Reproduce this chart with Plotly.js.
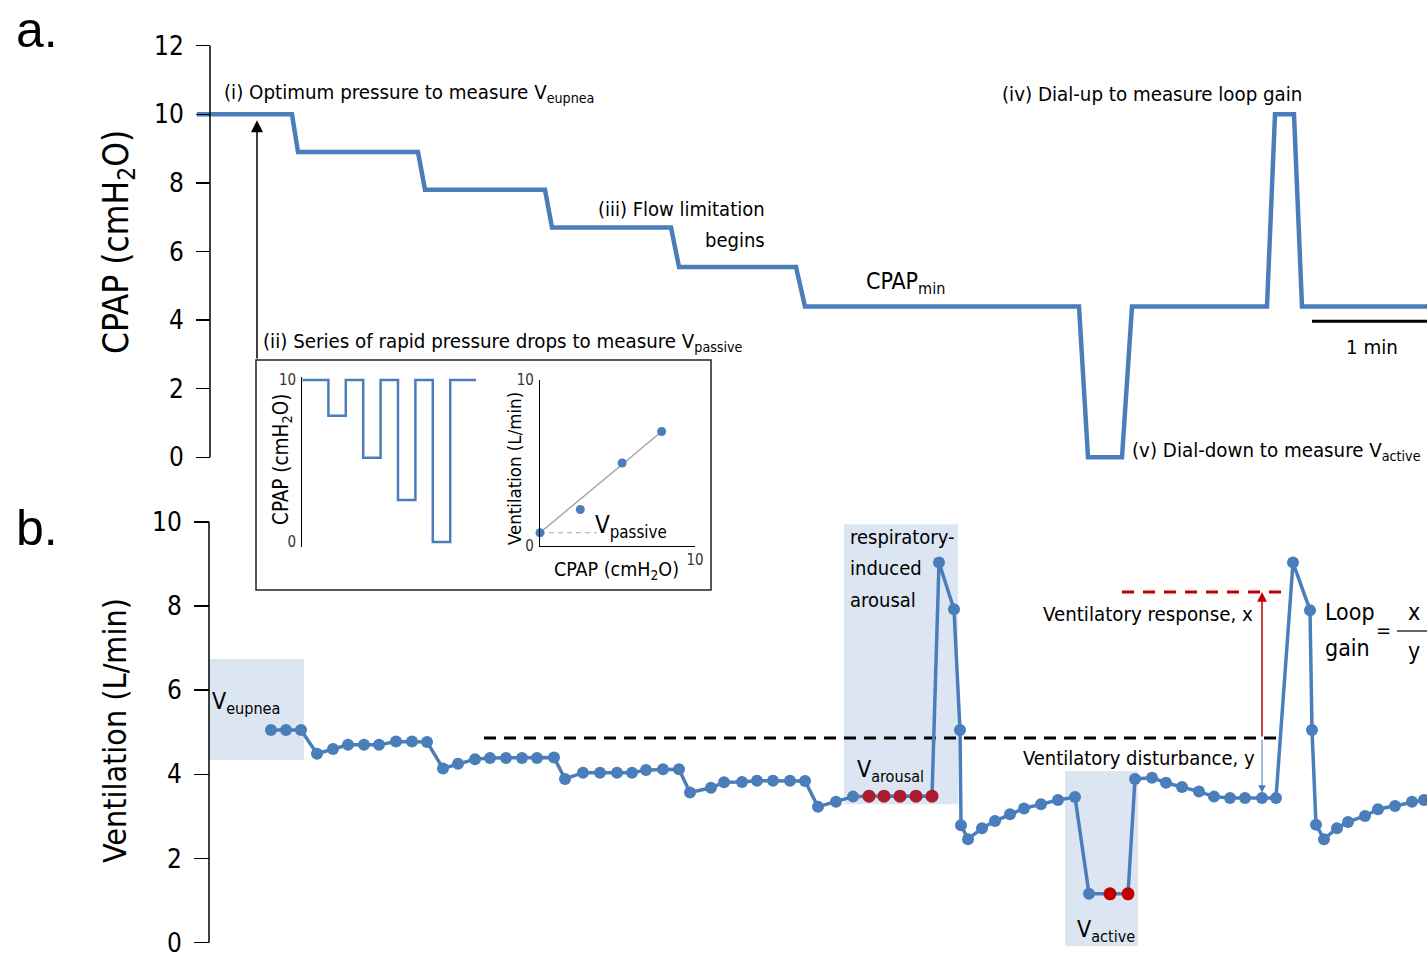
<!DOCTYPE html>
<html><head><meta charset="utf-8">
<script src="https://cdn.plot.ly/plotly-3.0.1.min.js"></script>
<style>html,body{margin:0;padding:0;background:#fff}</style>
</head><body><div id="chart" style="width:1427px;height:957px"></div>
<script>
// ---------- DATA ----------
// Panel a: CPAP profile (time in s, 1 min scale bar = 60 s)
const cpapTime  = [-5.5, 42, 45, 105, 108.5, 168.5, 172, 231.5, 235.5, 294, 298.5, 435.5, 440, 457, 462, 529.5, 533.5, 543, 547, 609.5];
const cpapLevel = [10, 10, 8.9, 8.9, 7.8, 7.8, 6.7, 6.7, 5.55, 5.55, 4.4, 4.4, 0, 0, 4.4, 4.4, 10, 10, 4.4, 4.4];
const cpapTicks = [0, 2, 4, 6, 8, 10, 12];

// Panel b: breath-by-breath ventilation (L/min)
const ventTime = [31.5, 39, 46.5, 54.5, 62.5, 70, 78, 85.5, 94, 102, 109.5,
  117.5, 125, 133.5, 141, 149, 157, 164.5, 173,
  178.5, 187.5, 196, 204.5, 212, 219, 227.5, 235.5,
  241, 251.5, 258, 267, 274.5, 282.5, 291, 298.5,
  305, 314, 322.5, 330.5, 338, 346, 354, 362,
  365.5, 373, 376, 376.5, 380, 387, 393.5, 401, 408, 416.5, 425, 433.5,
  440.5, 451, 460,
  463.5, 472, 479, 487, 495.5, 503, 511, 518.5, 527, 534,
  542.5, 551, 552, 554, 558, 564.5, 570, 578.5, 585, 593.5, 602, 608];
const ventValue = [5.05, 5.05, 5.05, 4.49, 4.60, 4.70, 4.70, 4.70, 4.78, 4.78, 4.77,
  4.14, 4.25, 4.36, 4.39, 4.39, 4.39, 4.39, 4.40,
  3.89, 4.04, 4.04, 4.04, 4.04, 4.10, 4.12, 4.12,
  3.57, 3.68, 3.81, 3.82, 3.85, 3.85, 3.85, 3.84,
  3.23, 3.35, 3.47, 3.48, 3.48, 3.48, 3.48, 3.48,
  9.03, 7.92, 5.05, 2.79, 2.46, 2.72, 2.89, 3.05, 3.19, 3.29, 3.39, 3.46,
  1.16, 1.16, 1.16,
  3.89, 3.92, 3.80, 3.70, 3.59, 3.47, 3.44, 3.44, 3.44, 3.44,
  9.03, 7.90, 5.05, 2.80, 2.46, 2.72, 2.87, 3.01, 3.17, 3.25, 3.35, 3.39];
const arousalTime  = [330.5, 338, 346, 354, 362];
const arousalValue = [3.48, 3.48, 3.48, 3.48, 3.48];
const activeTime   = [451, 460];
const activeValue  = [1.16, 1.16];
const ventTicks = [0, 2, 4, 6, 8, 10];
const eupneaRefTime = [138, 534.5];   const eupneaRef = [4.86, 4.86];
const responseTime  = [457, 539.5];   const responseRef = [8.33, 8.33];
const disturbanceLow = 3.56;          // end of blue arrow
const arrowTime = 527;
const scaleBarTime = [552, 612];       // 1 min
const eupneaWin  = [0.5, 48, 4.34, 6.74];
const arousalWin = [318, 375, 3.29, 9.94];
const activeWin  = [428.5, 465, -0.08, 4.08];

// Inset (ii): rapid pressure drops
const dropTime  = [0, 3, 5, 7, 9, 11, 13, 15, 17, 20];
const dropLevel = [10, 7.8, 10, 5.2, 10, 2.6, 10, 0, 10, 10];
// Inset: passive ventilation vs CPAP
const passiveCpap = [0, 2.6, 5.3, 7.85];
const passiveVent = [0.8, 2.2, 5.0, 6.9];
const fitCpap = [0, 7.85];
const fitVent = [0.8, 6.9];
const passiveRefCpap = [0, 3.66];
const passiveRefVent = [0.8, 0.8];

// ---------- STYLE ----------
const W = 1427, H = 957;
const px = x => x / W;
const py = y => 1 - y / H;
const BLUE = '#4a7ebb', RED = '#c00000', DARKRED = '#ab1d2d', SHADE = '#dce6f2';
const NARROW = '"Liberation Sans Narrow", "Arial Narrow", "DejaVu Sans Condensed", sans-serif';
const SANS = '"Liberation Sans", Arial, sans-serif';
const F = 20.3;

const traces = [
  {x: cpapTime, y: cpapLevel, xaxis: 'x', yaxis: 'y', mode: 'lines',
   line: {color: BLUE, width: 4.5}},
  {x: scaleBarTime, y: [3.97, 3.97], xaxis: 'x', yaxis: 'y', mode: 'lines',
   line: {color: '#000', width: 3}},
  {x: eupneaRefTime, y: eupneaRef, xaxis: 'x', yaxis: 'y2', mode: 'lines',
   line: {color: '#000', width: 3, dash: '12px,8px'}},
  {x: responseTime, y: responseRef, xaxis: 'x', yaxis: 'y2', mode: 'lines',
   line: {color: RED, width: 3, dash: '12px,9px'}},
  {x: ventTime, y: ventValue, xaxis: 'x', yaxis: 'y2', mode: 'lines+markers',
   line: {color: BLUE, width: 3.5}, marker: {color: BLUE, size: 12}},
  {x: arousalTime, y: arousalValue, xaxis: 'x', yaxis: 'y2', mode: 'markers',
   marker: {color: DARKRED, size: 13}},
  {x: activeTime, y: activeValue, xaxis: 'x', yaxis: 'y2', mode: 'markers',
   marker: {color: RED, size: 13}},
  {x: dropTime, y: dropLevel, xaxis: 'x2', yaxis: 'y3', mode: 'lines',
   line: {color: BLUE, width: 2.5, shape: 'hv'}},
  {x: passiveRefCpap, y: passiveRefVent, xaxis: 'x3', yaxis: 'y4', mode: 'lines',
   line: {color: '#aaa', width: 1, dash: '5px,4px'}},
  {x: fitCpap, y: fitVent, xaxis: 'x3', yaxis: 'y4', mode: 'lines',
   line: {color: '#a6a6a6', width: 1.5}},
  {x: passiveCpap, y: passiveVent, xaxis: 'x3', yaxis: 'y4', mode: 'markers',
   marker: {color: BLUE, size: 9}, cliponaxis: false}
];

const ann = [];
function t(text, x, y, opt) {
  ann.push(Object.assign({text, x: px(x), y: py(y), xref: 'paper', yref: 'paper',
    showarrow: false, xanchor: 'left', yanchor: 'middle',
    font: {family: NARROW, size: F, color: '#000'}}, opt || {}));
}
const fs = s => ({family: NARROW, size: s, color: '#000'});
t('a.', 14, 0, {yanchor: 'top', font: {family: SANS, size: 50, color: '#000'}});
t('b.', 14, 528, {font: {family: SANS, size: 50, color: '#000'}});
t('CPAP (cmH<sub>2</sub>O)', 118, 242, {textangle: -90, xanchor: 'center', font: fs(35)});
t('Ventilation (L/min)', 115, 731, {textangle: -90, xanchor: 'center', font: fs(32)});
t('(i) Optimum pressure to measure V<sub>eupnea</sub>', 222, 93);
t('(iii) Flow limitation', 767, 209, {xanchor: 'right', font: fs(20)});
t('begins', 767, 240, {xanchor: 'right', font: fs(20)});
t('CPAP<sub>min</sub>', 864, 283, {font: fs(23)});
t('(iv) Dial-up to measure loop gain', 1000, 94);
t('(v) Dial-down to measure V<sub>active</sub>', 1130, 451);
t('1 min', 1372, 347, {xanchor: 'center'});
t('(ii) Series of rapid pressure drops to measure V<sub>passive</sub>', 261, 342);
t('CPAP (cmH<sub>2</sub>O)', 282, 460, {textangle: -90, xanchor: 'center', font: fs(20.5)});
t('Ventilation (L/min)', 514, 469, {textangle: -90, xanchor: 'center', font: fs(18.5)});
t('CPAP (cmH<sub>2</sub>O)', 616, 570, {xanchor: 'center', font: fs(19.5)});
t('V<sub>passive</sub>', 593, 526, {font: fs(24)});
t('V<sub>eupnea</sub>', 210, 703, {font: fs(23)});
t('respiratory-', 848, 537, {font: fs(20)});
t('induced', 848, 568, {font: fs(20)});
t('arousal', 848, 600, {font: fs(20)});
t('V<sub>arousal</sub>', 855, 771, {font: fs(23)});
t('V<sub>active</sub>', 1075, 931, {font: fs(23)});
t('Ventilatory response, x', 1041, 614);
t('Ventilatory disturbance, y', 1021, 758, {font: fs(20)});
t('Loop', 1323, 612, {font: fs(23)});
t('gain', 1323, 648, {font: fs(23)});
t('=', 1383, 630, {xanchor: 'center', font: fs(20)});
t('x', 1414, 612, {xanchor: 'center', font: fs(23)});
t('y', 1414, 651, {xanchor: 'center', font: fs(23)});

// arrows
ann.push({x: 24.5, y: 9.83, ax: 24.5, ay: 2.84, xref: 'x', yref: 'y', axref: 'x', ayref: 'y',
  showarrow: true, arrowhead: 2, arrowsize: 1.6, arrowwidth: 1.5, arrowcolor: '#000', text: ''});
ann.push({x: arrowTime, y: responseRef[0], ax: arrowTime, ay: eupneaRef[0], xref: 'x', yref: 'y2', axref: 'x', ayref: 'y2',
  showarrow: true, arrowhead: 2, arrowsize: 1.3, arrowwidth: 1.5, arrowcolor: RED, text: ''});
ann.push({x: arrowTime, y: disturbanceLow, ax: arrowTime, ay: eupneaRef[0], xref: 'x', yref: 'y2', axref: 'x', ayref: 'y2',
  showarrow: true, arrowhead: 2, arrowsize: 1.5, arrowwidth: 1, arrowcolor: BLUE, text: ''});

const box = (w, fill) => ({type: 'rect', xref: 'x', yref: 'y2', x0: w[0], x1: w[1], y0: w[2], y1: w[3],
  fillcolor: fill, line: {width: 0}, layer: 'below'});
const shapes = [
  box(eupneaWin, SHADE), box(arousalWin, SHADE), box(activeWin, SHADE),
  {type: 'rect', xref: 'paper', yref: 'paper', x0: px(256), x1: px(711), y0: py(590), y1: py(360),
   fillcolor: '#fff', line: {color: '#222', width: 1.5}, layer: 'below'},
  {type: 'line', xref: 'paper', yref: 'y', x0: px(210), x1: px(210), y0: 0, y1: 12, line: {color: '#000', width: 1.5}},
  {type: 'line', xref: 'paper', yref: 'y2', x0: px(209), x1: px(209), y0: 0, y1: 10, line: {color: '#000', width: 1.5}},
  {type: 'line', xref: 'paper', yref: 'paper', x0: px(1397), x1: px(1427), y0: py(631), y1: py(631), line: {color: '#000', width: 1.2}}
];

const tickFont = fs(26);
const smallTick = {family: NARROW, size: 15, color: '#333'};
const layout = {
  width: W, height: H, margin: {l: 0, r: 0, t: 0, b: 0},
  paper_bgcolor: '#fff', plot_bgcolor: 'rgba(0,0,0,0)', showlegend: false, hovermode: false,
  xaxis: {domain: [px(197), 1], range: [-5.5, 609.5], visible: false, anchor: 'y'},
  yaxis: {domain: [0.5114, 0.9558], range: [-0.3, 12.1], anchor: 'free', position: px(210),
    tickvals: cpapTicks, ticks: 'outside', ticklen: 14, tickwidth: 1.5, tickcolor: '#000',
    showline: false, showgrid: false, zeroline: false, tickfont: tickFont, ticklabelstandoff: 7,
    ticklabeloverflow: 'allow'},
  yaxis2: {domain: [0.01055, 0.4636], range: [-0.1, 10.2], anchor: 'free', position: px(209),
    tickvals: ventTicks, ticks: 'outside', ticklen: 15, tickwidth: 1.5, tickcolor: '#000',
    showline: false, showgrid: false, zeroline: false, tickfont: tickFont, ticklabelstandoff: 7,
    ticklabeloverflow: 'allow'},
  xaxis2: {domain: [px(302.3), px(476.3)], range: [0, 20], visible: false, anchor: 'y3'},
  yaxis3: {domain: [py(546.9), py(376.8)], range: [-0.3, 10.2], anchor: 'x2',
    tickvals: [0, 10], ticks: '', showline: true, linecolor: '#000', linewidth: 1.2,
    showgrid: false, zeroline: false, tickfont: smallTick, ticklabelstandoff: 2},
  xaxis3: {domain: [px(540), px(695)], range: [0, 10], anchor: 'y4',
    tickvals: [10], ticks: '', showline: true, linecolor: '#000', linewidth: 1.2,
    showgrid: false, zeroline: false, tickfont: smallTick, ticklabelstandoff: 0},
  yaxis4: {domain: [py(546), py(380)], range: [0, 10], anchor: 'x3',
    tickvals: [0, 10], ticks: '', showline: true, linecolor: '#000', linewidth: 1.2,
    showgrid: false, zeroline: false, tickfont: smallTick, ticklabelstandoff: 2},
  annotations: ann, shapes: shapes
};
Plotly.newPlot('chart', traces, layout, {staticPlot: true, displayModeBar: false});
</script></body></html>
